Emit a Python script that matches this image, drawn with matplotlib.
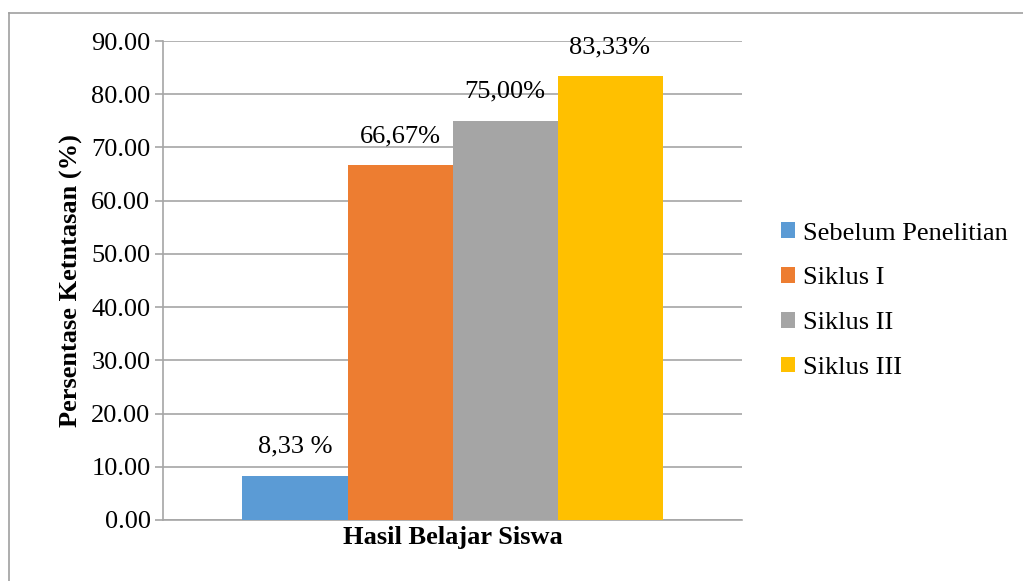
import matplotlib
matplotlib.use("Agg")
from matplotlib import pyplot as plt
from matplotlib.lines import Line2D

series = ["Sebelum Penelitian", "Siklus I", "Siklus II", "Siklus III"]
values = [8.33, 66.67, 75.00, 83.33]
labels = ["8,33 %", "66,67%", "75,00%", "83,33%"]
colors = ["#5B9BD5", "#ED7D31", "#A5A5A5", "#FFC000"]
category = "Hasil Belajar Siswa"

plt.rcParams['font.family'] = ['Liberation Serif', 'DejaVu Serif']

fig = plt.figure(figsize=(10.23, 5.81), dpi=100)
ax = fig.add_axes([163/1023, 1-520/581, 579/1023, 479/581])

# chart border (only top and left edges fall inside the image)
bx, by = 8.5/1023, 1 - 12.5/581
fig.lines.append(Line2D([bx, 1], [by, by], transform=fig.transFigure, color='#a0a0a0', linewidth=1.2))
fig.lines.append(Line2D([bx, bx], [0, by], transform=fig.transFigure, color='#a0a0a0', linewidth=1.2))

w = 105/579
start = 0.5 - 2*w
for i in range(len(values)):
    x = start + (i + 0.5)*w
    ax.bar(x, values[i], width=w, color=colors[i], label=series[i], zorder=3)
    ax.annotate(labels[i], (x, values[i]), xytext=(0, 13), textcoords='offset points',
                ha='center', va='bottom', fontsize=19)

ax.set_xlim(0, 1)
ax.set_ylim(0, 90)
ax.set_yticks(range(0, 91, 10))
ax.set_yticklabels(["%.2f" % v for v in range(0, 91, 10)], fontsize=19)
ax.set_xticks([])
ax.grid(axis='y', color='#a6a6a6', linewidth=1.2, zorder=0)
ax.tick_params(axis='y', length=6, color='#a6a6a6', width=1.2, pad=3)
for s in ['top', 'right']:
    ax.spines[s].set_visible(False)
for s in ['left', 'bottom']:
    ax.spines[s].set_color('#a6a6a6')
    ax.spines[s].set_linewidth(1.2)

ax.set_ylabel("Persentase Ketntasan (%)", fontsize=19, fontweight='bold', labelpad=6)
ax.set_xlabel(category, fontsize=19, fontweight='bold', labelpad=4)

ax.legend(loc='center left', bbox_to_anchor=(1.026, 0.458), frameon=False, fontsize=19,
          handlelength=0.55, handleheight=0.55, handletextpad=0.3, labelspacing=0.85)

plt.savefig("out.png", dpi=100)
